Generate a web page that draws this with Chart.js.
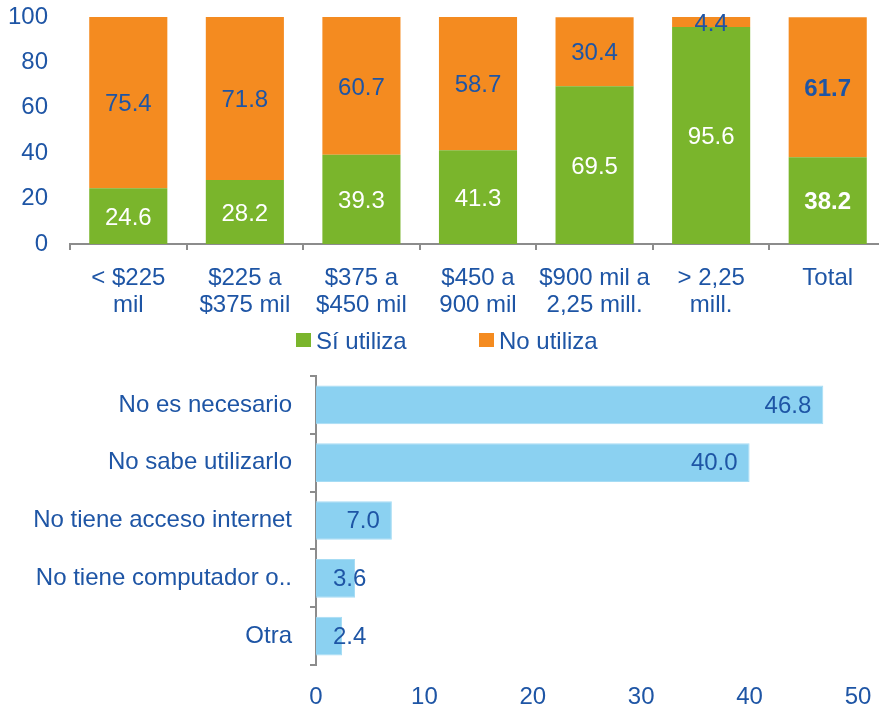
<!DOCTYPE html>
<html>
<head>
<meta charset="utf-8">
<script src="https://cdn.jsdelivr.net/npm/chart.js@4"></script>
<style>
  html, body { margin: 0; background: #fff; overflow: hidden; }
  #topChart { position: absolute; left: 0; top: 0; }
  #bottomChart { position: absolute; left: 0; top: 365px; }
  .legend-item {
    position: absolute;
    top: 328px;
    height: 26px;
    display: flex;
    align-items: center;
    font: 24px "Liberation Sans", Arial, sans-serif;
    color: #1E55A5;
    white-space: nowrap;
  }
  .legend-box { width: 15px; height: 14px; margin-right: 5px; margin-top: -2px; }
</style>
</head>
<body>
<canvas id="topChart" width="886" height="330"></canvas>
<div id="legend"></div>
<canvas id="bottomChart" width="879" height="345"></canvas>
<script>
// Data for the stacked income chart
const incomeLabels = [
    ['< $225', 'mil'],
    ['$225 a', '$375 mil'],
    ['$375 a', '$450 mil'],
    ['$450 a', '900 mil'],
    ['$900 mil a', '2,25 mill.'],
    ['> 2,25', 'mill.'],
    'Total'
];
const siUtiliza = [24.6, 28.2, 39.3, 41.3, 69.5, 95.6, 38.2];
const noUtiliza = [75.4, 71.8, 60.7, 58.7, 30.4, 4.4, 61.7];

// Data for the reasons chart
const reasonLabels = [
    'No es necesario',
    'No sabe utilizarlo',
    'No tiene acceso internet',
    'No tiene computador o..',
    'Otra'
];
const reasonValues = [46.8, 40.0, 7.0, 3.6, 2.4];

const BLUE_TEXT = '#1E55A5';
const AXIS_GRAY = '#8C8C8C';
const FONT = '"Liberation Sans", Arial, sans-serif';
const FONT_SIZE = 24;

Chart.defaults.font.family = FONT;
Chart.defaults.font.size = FONT_SIZE;
Chart.defaults.color = BLUE_TEXT;
Chart.defaults.animation = false;

// Remove automatic label padding so the layout padding controls the chart area
function noScalePadding(scale) {
    scale.paddingTop = 0;
    scale.paddingBottom = 0;
    scale.paddingLeft = 0;
    scale.paddingRight = 0;
}

// Value labels for the stacked bars (centered in each segment)
const stackedLabels = {
    id: 'stackedLabels',
    afterDatasetsDraw(chart) {
        const ctx = chart.ctx;
        ctx.save();
        ctx.textAlign = 'center';
        ctx.textBaseline = 'middle';
        chart.data.datasets.forEach((ds, i) => {
            const meta = chart.getDatasetMeta(i);
            meta.data.forEach((bar, j) => {
                const bold = j === ds.data.length - 1;
                ctx.font = (bold ? 'bold ' : '') + FONT_SIZE + 'px ' + FONT;
                ctx.fillStyle = i === 0 ? '#ffffff' : BLUE_TEXT;
                ctx.fillText(ds.data[j].toFixed(1), bar.x, (bar.y + bar.base) / 2 + 2);
            });
        });
        ctx.restore();
    }
};

// Value labels for the horizontal bars (inside end, kept clear of the axis)
const endLabels = {
    id: 'endLabels',
    afterDatasetsDraw(chart) {
        const ctx = chart.ctx;
        ctx.save();
        ctx.font = FONT_SIZE + 'px ' + FONT;
        ctx.fillStyle = BLUE_TEXT;
        ctx.textAlign = 'left';
        ctx.textBaseline = 'middle';
        const meta = chart.getDatasetMeta(0);
        const ds = chart.data.datasets[0];
        meta.data.forEach((bar, j) => {
            const text = ds.data[j].toFixed(1);
            const w = ctx.measureText(text).width;
            const x = Math.max(bar.x - 12 - w, bar.base + 17);
            ctx.fillText(text, x, bar.y + 1);
        });
        ctx.restore();
    }
};

// Simple HTML legend built from the chart's datasets
function buildLegend(chart, container, lefts) {
    chart.data.datasets.forEach((ds, i) => {
        const item = document.createElement('div');
        item.className = 'legend-item';
        item.style.left = lefts[i] + 'px';
        const box = document.createElement('span');
        box.className = 'legend-box';
        box.style.background = ds.backgroundColor;
        const text = document.createElement('span');
        text.textContent = ds.label;
        item.appendChild(box);
        item.appendChild(text);
        container.appendChild(item);
    });
}

const topChart = new Chart(document.getElementById('topChart'), {
    type: 'bar',
    data: {
        labels: incomeLabels,
        datasets: [
            {
                label: 'Sí utiliza',
                data: siUtiliza,
                backgroundColor: '#7AB52C',
                borderWidth: 0,
                barPercentage: 0.67,
                categoryPercentage: 1
            },
            {
                label: 'No utiliza',
                data: noUtiliza,
                backgroundColor: '#F48B20',
                borderWidth: 0,
                barPercentage: 0.67,
                categoryPercentage: 1
            }
        ]
    },
    options: {
        responsive: false,
        layout: { padding: { top: 17, left: 0, right: 0, bottom: 0 } },
        scales: {
            x: {
                stacked: true,
                grid: {
                    display: true,
                    drawOnChartArea: false,
                    drawTicks: true,
                    tickLength: 6,
                    color: AXIS_GRAY,
                    lineWidth: 2,
                    offset: true
                },
                border: { display: true, color: AXIS_GRAY, width: 2 },
                ticks: {
                    color: BLUE_TEXT,
                    font: { size: FONT_SIZE, lineHeight: 27 / 24 },
                    padding: 15,
                    maxRotation: 0,
                    autoSkip: false
                },
                afterFit(scale) {
                    noScalePadding(scale);
                    scale.height = 86;
                }
            },
            y: {
                stacked: true,
                min: 0,
                max: 100,
                grid: { display: false, drawTicks: false },
                border: { display: false },
                ticks: {
                    stepSize: 20,
                    color: BLUE_TEXT,
                    font: { size: FONT_SIZE },
                    padding: 22
                },
                afterFit(scale) {
                    noScalePadding(scale);
                    scale.width = 70;
                }
            }
        },
        plugins: {
            legend: { display: false },
            tooltip: { enabled: false }
        }
    },
    plugins: [stackedLabels]
});

buildLegend(topChart, document.getElementById('legend'), [296, 479]);

new Chart(document.getElementById('bottomChart'), {
    type: 'bar',
    data: {
        labels: reasonLabels,
        datasets: [{
            label: 'Razones',
            data: reasonValues,
            backgroundColor: '#8BD1F1',
            borderColor: '#A6DCF4',
            borderWidth: 1,
            barPercentage: 0.67,
            categoryPercentage: 1
        }]
    },
    options: {
        responsive: false,
        indexAxis: 'y',
        layout: { padding: { top: 11, left: 0, right: 21, bottom: 0 } },
        scales: {
            x: {
                min: 0,
                max: 50,
                grid: { display: false, drawTicks: false },
                border: { display: false },
                ticks: {
                    stepSize: 10,
                    color: BLUE_TEXT,
                    font: { size: FONT_SIZE },
                    padding: 18
                },
                afterFit(scale) {
                    noScalePadding(scale);
                    scale.height = 45;
                }
            },
            y: {
                grid: {
                    display: true,
                    drawOnChartArea: false,
                    drawTicks: true,
                    tickLength: 6,
                    color: AXIS_GRAY,
                    lineWidth: 2,
                    offset: true
                },
                border: { display: true, color: AXIS_GRAY, width: 2 },
                ticks: {
                    color: BLUE_TEXT,
                    font: { size: FONT_SIZE },
                    padding: 18,
                    autoSkip: false
                },
                afterFit(scale) {
                    noScalePadding(scale);
                    scale.width = 316;
                }
            }
        },
        plugins: {
            legend: { display: false },
            tooltip: { enabled: false }
        }
    },
    plugins: [endLabels]
});
</script>
</body>
</html>
